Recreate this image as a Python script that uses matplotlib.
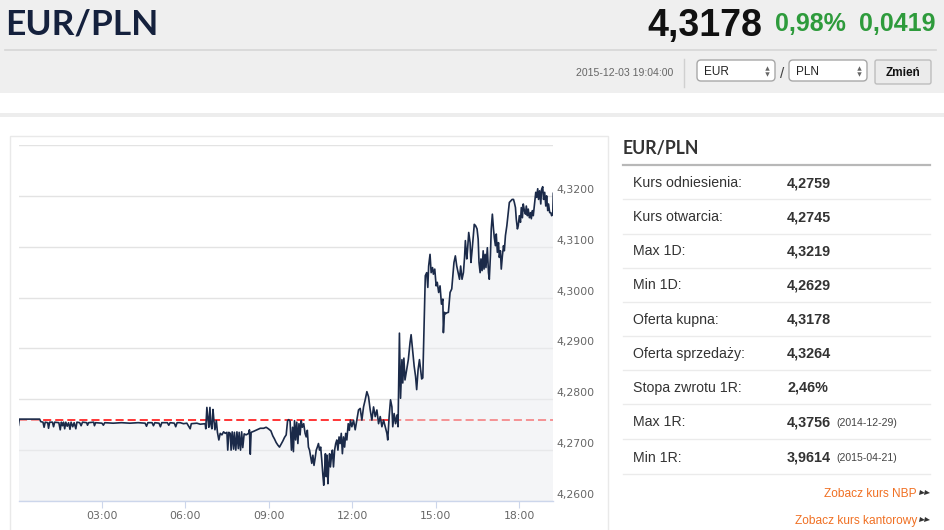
import matplotlib
matplotlib.use('Agg')
import matplotlib.pyplot as plt
import matplotlib.transforms as mtransforms
from matplotlib.patches import Rectangle, FancyBboxPatch

# ---------------- data ----------------
hours = [
    0.00, 0.03, 0.40, 0.76, 0.80, 0.88, 0.92, 0.96, 1.05, 1.08, 1.12, 1.22, 1.26, 1.30, 1.45, 1.50,
    1.54, 1.58, 1.62, 1.66, 1.70, 1.75, 1.80, 1.85, 1.89, 1.95, 2.00, 2.06, 2.10, 2.20, 2.25, 2.30,
    2.45, 2.48, 2.52, 2.70, 2.73, 2.77, 3.00, 3.05, 3.10, 3.40, 3.70, 4.00, 4.30, 4.55, 4.60, 4.65,
    4.80, 4.85, 4.90, 5.05, 5.10, 5.15, 5.35, 5.40, 5.45, 5.60, 5.65, 5.70, 5.81,
    5.93, 6.05, 6.17, 6.21, 6.41, 6.53, 6.71, 6.73, 6.77, 6.81, 6.84, 6.88, 6.91, 6.95, 6.99, 7.02,
    7.06, 7.11, 7.15, 7.20, 7.25, 7.31, 7.37, 7.43, 7.49, 7.52, 7.56, 7.61, 7.64, 7.68, 7.73, 7.76,
    7.81, 7.85, 7.90, 7.93, 7.98, 8.02, 8.06, 8.11, 8.18, 8.27, 8.30, 8.33, 8.36, 8.45, 8.57, 8.69,
    8.81, 8.90, 8.98, 9.07, 9.14, 9.20, 9.26, 9.32, 9.38, 9.44, 9.50, 9.56, 9.62, 9.67, 9.71, 9.76,
    9.81, 9.85, 9.88, 9.92, 9.96, 10.00, 10.04, 10.08, 10.12, 10.16, 10.20, 10.25, 10.30, 10.34,
    10.38, 10.42, 10.46, 10.50, 10.54, 10.58, 10.62, 10.66, 10.70, 10.74, 10.78, 10.82, 10.86,
    10.90, 10.94, 10.97, 11.00, 11.03, 11.06, 11.09, 11.12, 11.15, 11.18, 11.21, 11.25, 11.28,
    11.32, 11.36, 11.40, 11.44, 11.48, 11.52, 11.56, 11.60, 11.64, 11.68, 11.72, 11.76, 11.80,
    11.85, 11.89, 11.93, 11.98, 12.04, 12.10, 12.16, 12.22, 12.28, 12.34, 12.40, 12.46, 12.52,
    12.58, 12.64, 12.70, 12.76, 12.82, 12.88, 12.94, 13.00, 13.06, 13.12, 13.18, 13.24, 13.27,
    13.32, 13.37, 13.42, 13.45, 13.50, 13.55, 13.60, 13.64, 13.69, 13.73, 13.78, 13.81, 13.85,
    13.89, 13.95, 14.01, 14.07, 14.11, 14.16, 14.22, 14.27, 14.31, 14.36, 14.41,
    14.49, 14.53, 14.58, 14.62, 14.67, 14.71, 14.74, 14.79, 14.83, 14.88, 14.91, 14.96, 15.01,
    15.05, 15.10, 15.15, 15.20, 15.25, 15.27, 15.31, 15.34, 15.39, 15.45, 15.51, 15.57, 15.61,
    15.65, 15.70, 15.75, 15.80, 15.85, 15.89, 15.94, 15.99, 16.03, 16.06, 16.11, 16.14, 16.18,
    16.23, 16.26, 16.30, 16.35, 16.38, 16.43, 16.48, 16.52, 16.55, 16.59, 16.62, 16.66, 16.70,
    16.73, 16.77, 16.80, 16.85, 16.89, 16.92, 16.96, 16.99, 17.03, 17.07, 17.10, 17.14, 17.17,
    17.21, 17.25, 17.28, 17.32, 17.35, 17.39, 17.43, 17.46, 17.50, 17.55, 17.59, 17.64, 17.69,
    17.74, 17.79, 17.82, 17.86, 17.89, 17.93, 17.96, 18.00, 18.04, 18.07, 18.11, 18.14, 18.18,
    18.22, 18.25, 18.29, 18.32, 18.36, 18.40, 18.43, 18.47, 18.50, 18.55, 18.59, 18.62, 18.66,
    18.69, 18.73, 18.77, 18.80, 18.84, 18.87, 18.91, 18.95, 18.98, 19.02, 19.05, 19.09, 19.13,
    19.16, 19.20, 19.22,
]
rates = [
    4.2749, 4.2761, 4.2761, 4.2761, 4.2756, 4.2755, 4.2745, 4.2755, 4.2754, 4.2743, 4.2755, 4.2755,
    4.2746, 4.2755, 4.2754, 4.2740, 4.2755, 4.2748, 4.2755, 4.2742, 4.2755, 4.2747, 4.2754, 4.2741,
    4.2755, 4.2746, 4.2754, 4.2742, 4.2755, 4.2754, 4.2748, 4.2755, 4.2754, 4.2749, 4.2754, 4.2755,
    4.2748, 4.2754, 4.2753, 4.2749, 4.2754, 4.2753, 4.2754, 4.2753, 4.2754, 4.2753, 4.2747, 4.2754,
    4.2754, 4.2748, 4.2754, 4.2753, 4.2746, 4.2754, 4.2754, 4.2749, 4.2754, 4.2753, 4.2746, 4.2754,
    4.2754,
    4.2752, 4.2753, 4.2742, 4.2752, 4.2753, 4.2751, 4.2752, 4.2742, 4.2784, 4.2760, 4.2745, 4.2784,
    4.2752, 4.2742, 4.2780, 4.2760, 4.2740, 4.2758, 4.2735, 4.2720, 4.2733, 4.2730, 4.2736, 4.2733,
    4.2735, 4.2700, 4.2735, 4.2733, 4.2700, 4.2736, 4.2702, 4.2735, 4.2700, 4.2736, 4.2703, 4.2735,
    4.2700, 4.2736, 4.2705, 4.2732, 4.2730, 4.2733, 4.2740, 4.2692, 4.2735, 4.2737, 4.2740, 4.2743,
    4.2743, 4.2745, 4.2742, 4.2738, 4.2728, 4.2722, 4.2715, 4.2710, 4.2706, 4.2712, 4.2718, 4.2725,
    4.2730, 4.2758, 4.2760, 4.2757,
    4.2700, 4.2745, 4.2697, 4.2758, 4.2720, 4.2755, 4.2713, 4.2752, 4.2730, 4.2758, 4.2745, 4.2752,
    4.2733, 4.2726, 4.2739, 4.2706, 4.2700, 4.2687, 4.2674, 4.2690, 4.2670, 4.2684, 4.2700, 4.2706,
    4.2713, 4.2700, 4.2706, 4.2680, 4.2650, 4.2631, 4.2660, 4.2693, 4.2648, 4.2690, 4.2634, 4.2670,
    4.2693, 4.2667, 4.2690, 4.2700, 4.2667, 4.2700, 4.2713, 4.2720, 4.2700, 4.2726, 4.2713, 4.2733,
    4.2693, 4.2726, 4.2706, 4.2733, 4.2720, 4.2752, 4.2739, 4.2759, 4.2746, 4.2759, 4.2740, 4.2759,
    4.2779, 4.2782, 4.2759, 4.2785, 4.2799, 4.2815, 4.2805, 4.2779, 4.2759, 4.2785, 4.2766, 4.2779,
    4.2752, 4.2766, 4.2746, 4.2759, 4.2746, 4.2733, 4.2720, 4.2766, 4.2799, 4.2785, 4.2746, 4.2772,
    4.2752, 4.2769, 4.2746, 4.2930, 4.2802, 4.2878, 4.2832, 4.2881, 4.2838, 4.2858, 4.2878, 4.2911,
    4.2927, 4.2898, 4.2865, 4.2845, 4.2819, 4.2858, 4.2878,
    4.2840, 4.2842, 4.2958, 4.3043, 4.3049, 4.3020, 4.3062, 4.3085, 4.3049, 4.3059, 4.3046, 4.3056,
    4.3023, 4.3030, 4.3010, 4.3023, 4.2987, 4.2997, 4.2931, 4.2971, 4.2968, 4.2970, 4.2971, 4.3010,
    4.3017, 4.3043, 4.3069, 4.3082, 4.3062, 4.3049, 4.3036, 4.3062, 4.3036, 4.3049, 4.3079, 4.3112,
    4.3076, 4.3095, 4.3128, 4.3108, 4.3069, 4.3092, 4.3125, 4.3144, 4.3141, 4.3135, 4.3115, 4.3069,
    4.3049, 4.3076, 4.3053, 4.3092, 4.3056, 4.3085, 4.3059, 4.3098, 4.3049, 4.3036, 4.3082, 4.3135,
    4.3164, 4.3135, 4.3118, 4.3102, 4.3125, 4.3089, 4.3108, 4.3079, 4.3092, 4.3056, 4.3082, 4.3102,
    4.3092, 4.3122, 4.3141, 4.3161, 4.3187, 4.3190, 4.3193, 4.3193, 4.3187, 4.3177, 4.3154, 4.3135,
    4.3141, 4.3161, 4.3148, 4.3177, 4.3157, 4.3184, 4.3171, 4.3164, 4.3180, 4.3161, 4.3174, 4.3157,
    4.3167, 4.3155, 4.3171, 4.3161, 4.3187, 4.3207, 4.3197, 4.3214, 4.3193, 4.3210, 4.3184, 4.3213,
    4.3218, 4.3193, 4.3207, 4.3180, 4.3200, 4.3171, 4.3184, 4.3167, 4.3167, 4.3161, 4.3164, 4.3205,
]
ref_rate = 4.2759
x_ticks = [3, 6, 9, 12, 15, 18]
x_labels = ['03:00', '06:00', '09:00', '12:00', '15:00', '18:00']
y_ticks = [4.26, 4.27, 4.28, 4.29, 4.30, 4.31, 4.32, 4.33]
y_labels = ['4,2600', '4,2700', '4,2800', '4,2900', '4,3000', '4,3100', '4,3200', '']

pair = 'EUR/PLN'
last_rate = '4,3178'
change_pct = '0,98%'
change_abs = '0,0419'
timestamp = '2015-12-03 19:04:00'
stat_labels = ['Kurs odniesienia:', 'Kurs otwarcia:', 'Max 1D:', 'Min 1D:', 'Oferta kupna:',
               'Oferta sprzedaży:', 'Stopa zwrotu 1R:', 'Max 1R:', 'Min 1R:']
stat_values = ['4,2759', '4,2745', '4,3219', '4,2629', '4,3178', '4,3264', '2,46%', '4,3756', '3,9614']
stat_notes = ['', '', '', '', '', '', '', '(2014-12-29)', '(2015-04-21)']
links = ['Zobacz kurs NBP', 'Zobacz kurs kantorowy']

# ---------------- figure ----------------
W, H = 945, 530
fig = plt.figure(figsize=(W / 100, H / 100), dpi=100)
fig.patch.set_facecolor('white')
bg = fig.add_axes([0, 0, 1, 1])
bg.set_xlim(0, W)
bg.set_ylim(H, 0)
bg.axis('off')

SANS = ['Liberation Sans', 'DejaVu Sans']
NARROW = ['Liberation Sans Narrow', 'Liberation Sans', 'DejaVu Sans']


def txt(x, yc, s, size, **kw):
    bg.text(x, yc + 0.36 * size * 100 / 72, s, fontsize=size, va='baseline', **kw)


# header band
bg.add_patch(Rectangle((0, 0), W, 93, facecolor='#efefef', edgecolor='none'))
bg.plot([5, 936], [50, 50], color='#d6d6d6', lw=1.2)
bg.add_patch(Rectangle((0, 113), W, 3.5, facecolor='#ededed', edgecolor='none'))

txt(5, 22, pair, 25.5, family=['Lato', 'DejaVu Sans'], weight='bold', color='#15213d', ha='left')
txt(935, 22, change_abs, 18, family=SANS, weight='bold', color='#2e9b3c', ha='right')
txt(846, 22, change_pct, 18, family=SANS, weight='bold', color='#2e9b3c', ha='right')
txt(762, 22, last_rate, 27, family=SANS, weight='bold', color='#111111', ha='right')

txt(673, 72, timestamp, 7.6, family=SANS, color='#666666', ha='right')
bg.plot([684, 684], [59, 87], color='#d0d0d0', lw=1)
for bx, cur in [(697, 'EUR'), (789, 'PLN')]:
    bg.add_patch(FancyBboxPatch((bx, 60), 78, 21, boxstyle='round,pad=0,rounding_size=4',
                                facecolor='white', edgecolor='#a8a8a8', lw=1))
    txt(bx + 7, 70.5, cur, 8.5, family=SANS, color='#222222', ha='left')
    bg.plot([bx + 70], [68], marker='^', ms=3.2, color='#666666', mew=0)
    bg.plot([bx + 70], [73.5], marker='v', ms=3.2, color='#666666', mew=0)
txt(782, 72, '/', 11, family=SANS, color='#444444', ha='center')
bg.add_patch(FancyBboxPatch((875, 60), 56, 24, boxstyle='round,pad=0,rounding_size=2',
                            facecolor='#ebebeb', edgecolor='#bdbdbd', lw=1))
txt(903, 72, 'Zmień', 8.5, family=NARROW, weight='bold', color='#111111', ha='center')

# chart panel border
bg.add_patch(Rectangle((9.5, 135.5), 598.5, 420, facecolor='white', edgecolor='#e9e9e9', lw=1))

# right panel
txt(623, 148, pair, 12.7, family=['Lato', 'DejaVu Sans'], weight='bold', color='#333333', ha='left')
bg.plot([623, 930], [165, 165], color='#b8b8b8', lw=1.6)
row_y = [182, 216, 250, 284, 318.5, 352.5, 386.5, 421, 456.5]
sep_y = [199, 233.5, 267.5, 301.5, 335.5, 370, 404, 439, 474]
for yc, lab, val, note, sy in zip(row_y, stat_labels, stat_values, stat_notes, sep_y):
    txt(633, yc, lab, 10.2, family=SANS, color='#333333', ha='left')
    txt(787, yc, val, 10.4, family=SANS, weight='bold', color='#333333', ha='left')
    if note:
        txt(836, yc + 1, note, 7.6, family=SANS, color='#444444', ha='left')
    bg.plot([623, 930], [sy, sy], color='#ebebeb', lw=1)

for yc, link in zip([493, 520], links):
    txt(917, yc, link, 8.6, family=SANS, color='#f07023', ha='right')
    bg.plot([922, 927], [yc, yc], ls='none', marker='>', ms=3.6, color='#333333', mew=0)

# ---------------- chart ----------------
x0, x1, ytop, ybot = 18.5, 553.3, 145, 501
ax = fig.add_axes([x0 / W, 1 - ybot / H, (x1 - x0) / W, (ybot - ytop) / H])
ax.patch.set_alpha(0)
ax.set_xlim(0, 19.22)
ax.set_ylim(4.26, 4.33)
for v in y_ticks:
    ax.axhline(v, color='#e3e3e3', lw=1, zorder=0)
ax.axhline(ref_rate, color='#ff0000', lw=1.1, dashes=(5.3, 2.6), zorder=1)
ax.fill_between(hours, rates, 4.26, facecolor='#ebedf1', alpha=0.5, lw=0, zorder=2)
ax.plot(hours, rates, color='#1b2a49', lw=1.2, zorder=3)

for s in ['top', 'left', 'right']:
    ax.spines[s].set_visible(False)
ax.spines['bottom'].set_color('#ccd6eb')
ax.spines['bottom'].set_linewidth(1)
ax.spines['bottom'].set_zorder(4)
ax.set_yticks([])
ax.set_xticks(x_ticks)
ax.set_xticklabels(x_labels)
ax.tick_params(axis='x', direction='out', length=5, width=0.8, color='#ccd6eb',
               labelcolor='#666666', labelsize=7.8, pad=2.5)
for lbl in ax.get_xticklabels():
    lbl.set_family('DejaVu Sans')

ytrans = mtransforms.blended_transform_factory(ax.transAxes, ax.transData) + \
    mtransforms.ScaledTranslation(3 / 100, 1 / 100, fig.dpi_scale_trans)
for v, lab in zip(y_ticks, y_labels):
    if lab:
        ax.text(1.0, v, lab, transform=ytrans, ha='left', va='bottom', fontsize=7.8,
                color='#666666', family='DejaVu Sans', clip_on=False)

fig.savefig('out.png', dpi=100, facecolor='white')
